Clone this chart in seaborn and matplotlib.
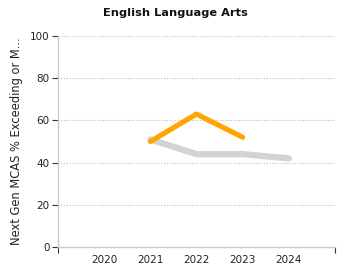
import matplotlib
matplotlib.use("Agg")
import matplotlib.pyplot as plt
import seaborn as sns
import pandas as pd

years_a = [2021, 2022, 2023]
school = [50, 63, 52]
years_b = [2021, 2022, 2023, 2024]
state = [51, 44, 44, 42]
xtick_labels = ["2020", "2021", "2022", "2023", "2024"]
yticks = [0, 20, 40, 60, 80, 100]

df = pd.concat([
    pd.DataFrame({"year": years_b, "value": state, "series": "State"}),
    pd.DataFrame({"year": years_a, "value": school, "series": "School"}),
])

sns.set_style("white")
plt.rcParams['font.family'] = ['DejaVu Sans']

fig = plt.figure(figsize=(3.5, 2.8), dpi=100)
ax = fig.add_axes([58/350, 33/280, 277/350, 211/280])

for name, color, lw in [("State", "#d3d3d3", 4.5), ("School", "#ffa500", 3.7)]:
    sub = df[df.series == name]
    sns.lineplot(data=sub, x="year", y="value", ax=ax, color=color,
                 linewidth=lw, legend=False, solid_capstyle="round")

ax.set_xlim(2019, 2025)
ax.set_ylim(0, 100)
ax.set_xticks([int(t) for t in xtick_labels])
ax.set_xticklabels(xtick_labels)
ax.set_xticks([2019, 2025], minor=True)
ax.tick_params(axis="x", which="major", bottom=True, length=0, labelsize=7.5,
               colors="#222222", pad=6)
ax.tick_params(axis="x", which="minor", bottom=True, length=4, color="#333333", width=0.8)
ax.set_yticks(yticks)
ax.tick_params(axis="y", left=True, length=4, labelsize=7.5, color="#333333",
               labelcolor="#222222", width=0.8, pad=2)
for y in yticks[1:]:
    ax.axhline(y, color="#bbbbbb", linestyle=(0, (1, 1.5)), linewidth=0.8, zorder=0)
for s in ["top", "right"]:
    ax.spines[s].set_visible(False)
for s in ["left", "bottom"]:
    ax.spines[s].set_color("#cccccc")
    ax.spines[s].set_linewidth(1)
ax.set_xlabel("")
ax.set_ylabel("Next Gen MCAS % Exceeding or M...", fontsize=8.3, color="#222222", labelpad=5)
fig.text(0.5, 0.955, "English Language Arts", ha="center", va="center",
         fontsize=8.2, fontweight="bold", color="#111111")

fig.savefig("out.png", dpi=100)
